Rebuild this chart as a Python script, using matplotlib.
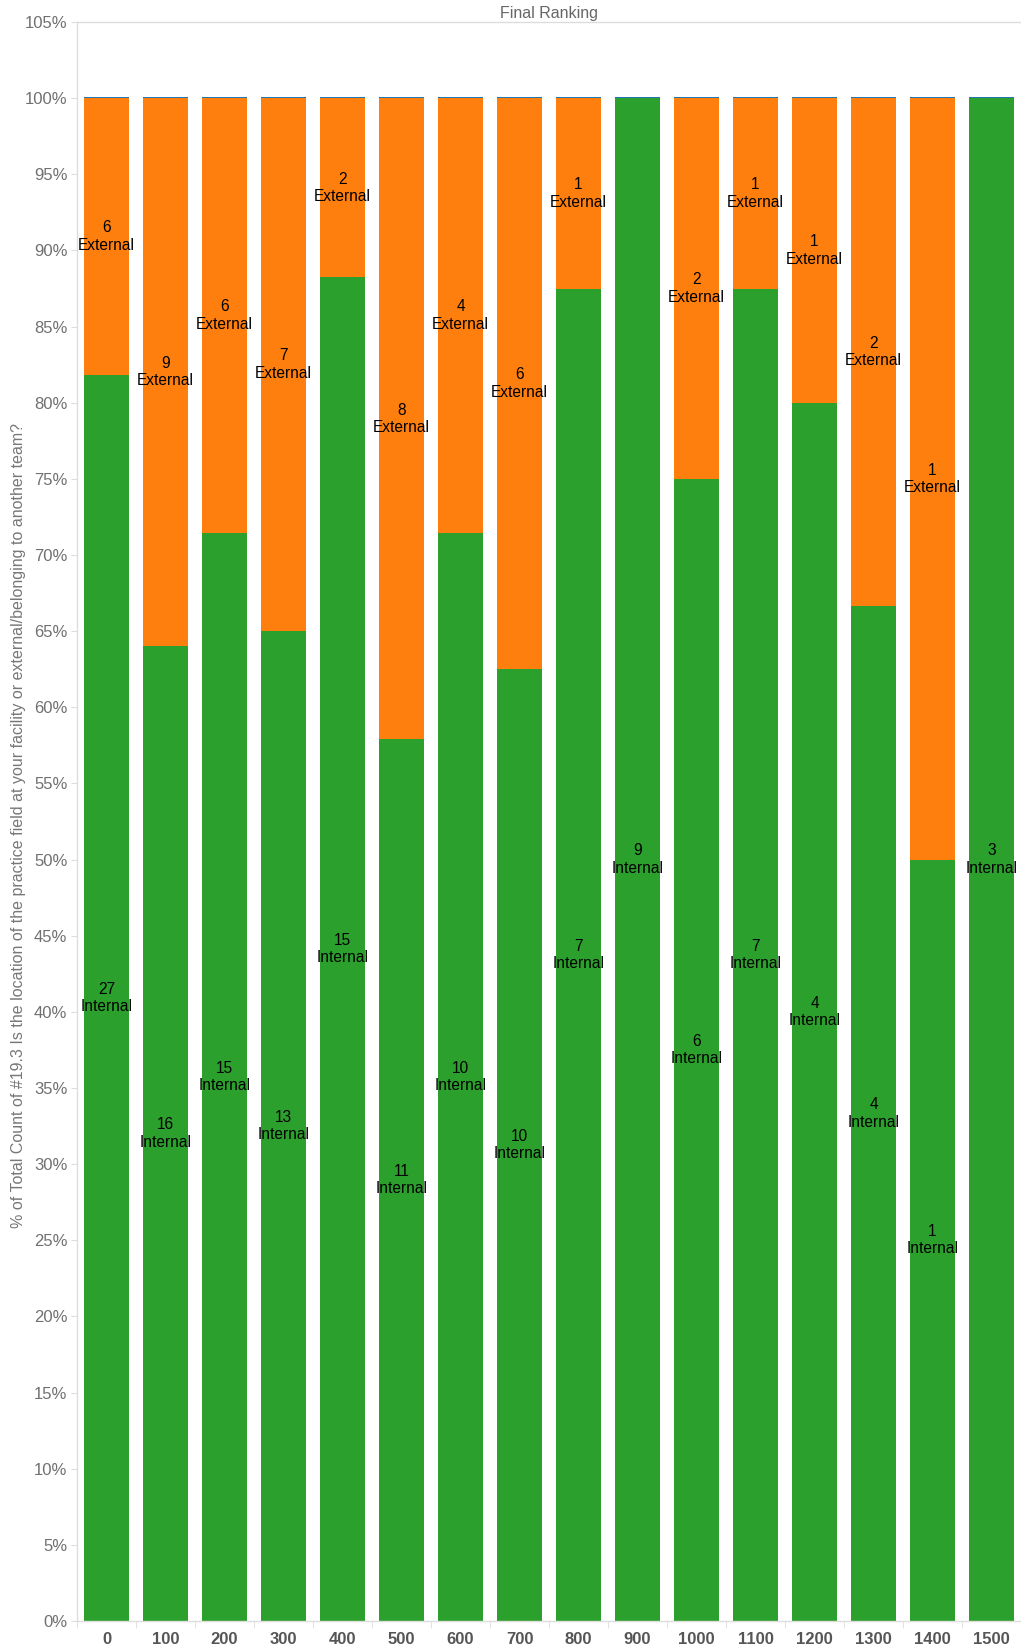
import matplotlib
matplotlib.use("Agg")
import matplotlib.pyplot as plt
import numpy as np

categories = ["0", "100", "200", "300", "400", "500", "600", "700", "800",
              "900", "1000", "1100", "1200", "1300", "1400", "1500"]
internal = [27, 16, 15, 13, 15, 11, 10, 10, 7, 9, 6, 7, 4, 4, 1, 3]
external = [6, 9, 6, 7, 2, 8, 4, 6, 1, 0, 2, 1, 1, 2, 1, 0]
ytick_vals = list(range(0, 106, 5))

plt.rcParams['font.family'] = ['Liberation Sans', 'DejaVu Sans']

W, H = 1021, 1647
fig = plt.figure(figsize=(W / 100, H / 100), dpi=100)
ax = fig.add_axes([77 / W, 26 / H, (W - 77) / W, 1599 / H])

x = np.arange(len(categories))
intv = np.array(internal, float)
extv = np.array(external, float)
tot = intv + extv
ip = intv / tot * 100
ep = extv / tot * 100

green = "#2ca02c"
orange = "#ff7f0e"
blue = "#1f77b4"
bw = 0.76
ax.bar(x, ip, width=bw, color=green, linewidth=0)
ax.bar(x, ep, bottom=ip, width=bw, color=orange, linewidth=0)
ax.bar(x, 0.09, bottom=100, width=bw, color=blue, linewidth=0)

for i in range(len(x)):
    if intv[i] > 0:
        ax.text(x[i], ip[i] / 2, f"{internal[i]}\nInternal", ha="center", va="center",
                fontsize=11.2, color="black", linespacing=1.2)
    if extv[i] > 0:
        ax.text(x[i], ip[i] + ep[i] / 2, f"{external[i]}\nExternal", ha="center", va="center",
                fontsize=11.2, color="black", linespacing=1.2)

ax.set_xlim(-0.5, len(x) - 0.5)
ax.set_ylim(0, 105)
ax.set_yticks(ytick_vals)
ax.set_yticklabels([f"{v}%" for v in ytick_vals], fontsize=12, color="#707070")
ax.set_xticks(x)
ax.set_xticklabels(categories, fontsize=12, color="#555555", fontweight="bold")
ax.set_xticks(np.arange(-0.5, len(x), 1), minor=True)
ax.tick_params(axis="x", which="major", length=0, pad=8)
ax.tick_params(axis="x", which="minor", length=5, color="#dddddd", direction="out")
ax.tick_params(axis="y", length=4, color="#dddddd", pad=3)

ax.spines["right"].set_visible(False)
for s in ["left", "bottom", "top"]:
    ax.spines[s].set_color("#dddddd")
    ax.spines[s].set_linewidth(1.0)

fig.text(19 / W, 1 - (26 + 1599 / 2) / H,
         "% of Total Count of #19.3 Is the location of the practice field at your facility or external/belonging to another team?",
         rotation=90, ha="center", va="center", fontsize=11.5, color="#777777")
ax.set_title("Final Ranking", fontsize=11.5, color="#666666", pad=3)

fig.savefig("out.png", dpi=100)
